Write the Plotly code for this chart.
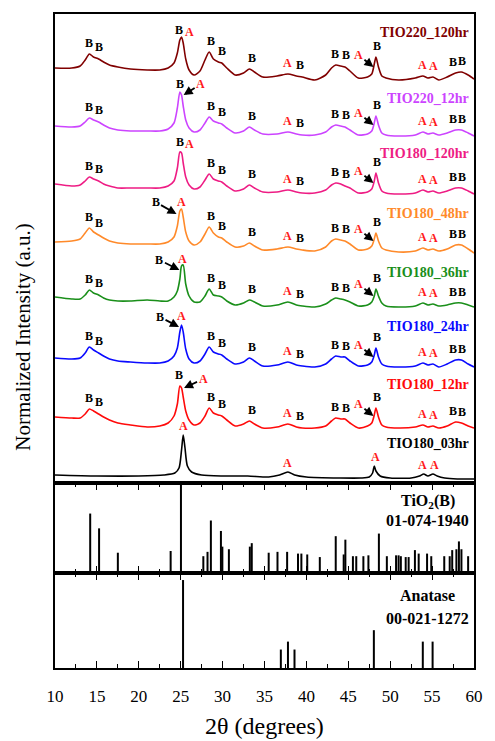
import numpy as np
import plotly.graph_objects as go
from plotly.subplots import make_subplots

# ---------------- data ----------------
two_theta = [10, 12, 13, 13.6, 14.1, 14.6, 15.2, 15.8, 16.5, 17.5,
             19, 21, 22.5, 23.5, 24.2, 24.6, 24.9, 25.1, 25.3, 25.6,
             26.0, 26.6, 27.3, 27.9, 28.4, 28.9, 29.5, 29.9, 30.5, 31.5,
             32.5, 33.2, 33.8, 34.8, 36.5, 37.8, 38.8, 39.5, 41, 42.3,
             43.0, 43.5, 44.1, 44.6, 45.2, 46.2, 47.3, 47.8, 48.1, 48.3,
             48.6, 49.0, 49.5, 51, 53, 53.9, 54.5, 55.1, 55.8, 56.8,
             57.8, 58.5, 59.3, 60]

samples = ["TIO220_120hr", "TIO220_12hr", "TIO180_120hr", "TIO180_48hr",
           "TIO180_36hr", "TIO180_24hr", "TIO180_12hr"]

tio220_120hr = [0, 0, 2, 8, 14, 11, 9, 6, 3, 1,
                -1, -2, -2, 0, 5, 15, 28, 31, 25, 9,
                -2, -7, -3, 8, 16, 9, 6, 5, 0, -7,
                -5, -1, -4, -9, -8, -6, -8, -9, -12, -7,
                0, 3, 2, 1, -3, -10, -9, -6, 4, 11,
                1, -8, -10, -12, -10, -8, -10, -9, -12, -9,
                -5, -4, -7, -11]
tio220_12hr = [0, -1, 0, 4, 8, 6, 4, 1, -2, -4,
               -5, -5, -5, -3, 3, 18, 34, 31, 20, 6,
               -2, -6, -4, 3, 9, 5, 3, 2, -2, -7,
               -5, -1, -4, -8, -8, -6, -8, -9, -9, -6,
               -1, 1, 0, -1, -4, -9, -8, -5, 3, 10,
               1, -7, -9, -10, -9, -6, -8, -7, -9, -7,
               -4, -4, -7, -10]
tio180_120hr = [0, -2, -1, 3, 7, 5, 3, 0, -2, -4,
                -4, -4, -4, -2, 3, 16, 32, 31, 21, 7,
                -1, -5, -3, 4, 10, 5, 3, 2, -2, -7,
                -5, -1, -4, -8, -8, -6, -8, -9, -9, -6,
                -1, 1, 0, -2, -4, -9, -8, -5, 3, 11,
                1, -7, -9, -10, -9, -6, -8, -7, -9, -7,
                -4, -4, -7, -10]
tio180_48hr = [0, 1, 3, 9, 14, 10, 7, 4, 1, -1,
               -2, -2, -2, 0, 5, 16, 31, 33, 25, 10,
               1, -3, 0, 8, 15, 9, 5, 4, 0, -5,
               -4, -1, -4, -8, -7, -5, -7, -8, -9, -5,
               1, 3, 2, 1, -2, -8, -7, -4, 3, 9,
               1, -6, -8, -10, -9, -6, -8, -7, -9, -7,
               -3, -3, -7, -11]
tio180_36hr = [0, -2, -2, 2, 7, 4, 2, -1, -3, -4,
               -4, -3, -4, -4, 0, 6, 18, 31, 32, 13,
               1, -5, -5, 1, 8, 2, 1, 0, -4, -8,
               -6, -3, -5, -9, -8, -5, -8, -9, -10, -7,
               -3, -1, -2, -3, -5, -9, -8, -5, 1, 8,
               1, -6, -9, -10, -9, -6, -8, -7, -9, -8,
               -6, -6, -8, -10]
tio180_24hr = [0, -1, 0, 5, 11, 8, 5, 2, -1, -3,
               -4, -5, -5, -3, 2, 10, 26, 33, 26, 9,
               -1, -5, -3, 4, 11, 6, 4, 3, -1, -6,
               -4, 0, -3, -8, -7, -4, -7, -8, -9, -6,
               -1, 2, 1, 1, -3, -8, -7, -4, 3, 10,
               1, -6, -8, -9, -8, -5, -7, -6, -9, -6,
               -2, -2, -6, -9]
tio180_12hr = [0, -1, -1, 3, 8, 6, 3, 0, -3, -6,
               -8, -10, -9, -6, 1, 13, 31, 29, 20, 6,
               -3, -8, -6, 1, 9, 4, 2, 1, -3, -9,
               -7, -4, -7, -11, -10, -7, -10, -11, -11, -9,
               -4, -1, -2, -2, -6, -11, -9, -6, 2, 9,
               0, -8, -10, -11, -10, -8, -10, -9, -11, -9,
               -5, -6, -9, -11]

two_theta_03hr = [10, 15, 20, 23, 24.3, 24.8, 25.1, 25.3, 25.5, 25.8,
                  26.3, 27.5, 30, 33, 35.5, 36.8, 37.8, 38.6, 40, 44,
                  46.5, 47.5, 47.9, 48.1, 48.3, 48.8, 50, 52.5, 53.5, 54.0,
                  54.5, 55.1, 55.6, 56.5, 58, 60]
tio180_03hr = [0, -1, -1, 0, 2, 7, 25, 40, 28, 9,
               3, 0, -1, -1, -2, 0, 3, 0, -2, -3,
               -3, -2, 2, 9, 4, -1, -3, -3, -1, 1,
               -1, 1, -1, -3, -4, -4]

series_values = [tio220_120hr, tio220_12hr, tio180_120hr, tio180_48hr,
                 tio180_36hr, tio180_24hr, tio180_12hr]
baselines = [415, 357, 299, 241, 186, 125, 66]
baseline_03hr = 8

# reference patterns (stick positions / relative intensities)
tio2b_pos = [14.2, 15.26, 17.5, 23.8, 25.03, 27.7, 28.2, 28.6, 29.8, 29.97,
             30.75, 33.25, 33.48, 35.5, 36.55, 37.7, 39.0, 39.4, 40.1, 41.6,
             43.5, 44.45, 44.65, 45.55, 45.95, 46.8, 47.4, 48.65, 49.6, 50.7,
             51.0, 51.27, 51.85, 52.2, 52.95, 53.4, 54.4, 54.9, 56.45, 57.1,
             57.4, 57.9, 58.2, 58.5, 59.3]
tio2b_int = [66, 49, 21, 23, 100, 17, 22, 58, 46, 28,
             25, 28, 32, 21, 22, 22, 20, 20, 19, 16,
             40, 19, 36, 17, 17, 17, 18, 43, 17, 18,
             18, 17, 16, 16, 24, 20, 20, 17, 17, 17,
             24, 25, 34, 25, 17]
anatase_pos = [25.28, 36.95, 37.80, 38.58, 48.05, 53.89, 55.06]
anatase_int = [100, 21, 30, 21, 43, 30, 30]

peak_marks = [("B", 14.1), ("B", 15.3), ("B", 28.6), ("B", 29.9), ("B", 33.5),
              ("A", 37.8), ("B", 39.2), ("B", 43.4), ("B", 44.7), ("B", 48.4),
              ("A", 53.9), ("A", 55.2), ("B", 57.5), ("B", 58.6)]
peak_marks_03hr = [("A", 25.3), ("A", 37.8), ("A", 48.2), ("A", 53.9), ("A", 55.3)]

# ---------------- styles ----------------
colors = ["#800000", "#CC44FF", "#EE1C84", "#FF8A2A", "#1A8F1A", "#0A0AFF", "#FF0A0A"]
FONT = "Liberation Serif"
A_COLOR = "#FF1A1A"

# labels near the 25 deg peak
special_25 = [
    dict(b=(24.8, 38), a=(26.0, 36)),
    dict(b=(24.9, 42), a_arrow=(25.35, 31, 17, -11)),
    dict(b=(24.95, 42), a=(26.0, 40)),
    dict(b_arrow=(24.5, 28, -21, -12), a=(25.1, 40)),
    dict(b_arrow=(24.85, 27, -20, -10), a=(25.2, 38)),
    dict(b_arrow=(24.8, 31, -19, -10), a=(25.1, 42)),
    dict(b=(24.8, 42), a_arrow=(25.4, 29, 19, -9)),
]

fig = make_subplots(rows=3, cols=1, shared_xaxes=True, vertical_spacing=0,
                    row_heights=[469, 90, 95])

for name, vals, base, col in zip(samples, series_values, baselines, colors):
    fig.add_trace(go.Scatter(x=two_theta, y=[base + v for v in vals], mode="lines",
                             line=dict(color=col, width=1.6, shape="spline", smoothing=0.7),
                             name=name, showlegend=False, hoverinfo="skip"), row=1, col=1)
fig.add_trace(go.Scatter(x=two_theta_03hr, y=[baseline_03hr + v for v in tio180_03hr],
                         mode="lines", line=dict(color="black", width=1.6, shape="spline", smoothing=0.7),
                         name="TIO180_03hr", showlegend=False, hoverinfo="skip"), row=1, col=1)


def sticks(pos, inten):
    xs, ys = [], []
    for p, h in zip(pos, inten):
        xs += [p, p, None]
        ys += [0, h, None]
    return xs, ys


sx, sy = sticks(tio2b_pos, tio2b_int)
fig.add_trace(go.Scatter(x=sx, y=sy, mode="lines", line=dict(color="black", width=2),
                         showlegend=False, hoverinfo="skip"), row=2, col=1)
sx, sy = sticks(anatase_pos, anatase_int)
fig.add_trace(go.Scatter(x=sx, y=sy, mode="lines", line=dict(color="black", width=2),
                         showlegend=False, hoverinfo="skip"), row=3, col=1)

ann = []


def local_max(xs, ys, x0, w=0.4):
    fine = np.linspace(x0 - w, x0 + w, 41)
    return float(np.interp(fine, xs, ys).max())


def mark(text, x, y, **kw):
    col = A_COLOR if text == "A" else "black"
    d = dict(text=text, x=x, y=y, xref="x", yref="y", showarrow=False,
             font=dict(family=FONT, size=12, color=col, weight="bold"))
    d.update(kw)
    ann.append(d)


GAP = 11
label_y = [451, 385, 330, 270, 211, 157, 99]
for name, vals, base, col, ly, sp in zip(samples, series_values, baselines, colors, label_y, special_25):
    for t, xp in peak_marks:
        mark(t, xp, base + local_max(two_theta, vals, xp) + GAP)
    if "b" in sp:
        mark("B", sp["b"][0], base + sp["b"][1])
    if "a" in sp:
        mark("A", sp["a"][0], base + sp["a"][1])
    if "b_arrow" in sp:
        hx, hy, ax, ay = sp["b_arrow"]
        mark("B", hx, base + hy, showarrow=True, ax=ax, ay=ay, arrowhead=2, arrowsize=1,
             arrowwidth=1.8, arrowcolor="black", standoff=0)
    if "a_arrow" in sp:
        hx, hy, ax, ay = sp["a_arrow"]
        mark("A", hx, base + hy, showarrow=True, ax=ax, ay=ay, arrowhead=2, arrowsize=1,
             arrowwidth=1.8, arrowcolor="black", standoff=0)
    mark("A", 48.0, base + 1, showarrow=True, ax=-15, ay=-12, arrowhead=2, arrowsize=1,
         arrowwidth=1.8, arrowcolor="black", standoff=0)
    ann.append(dict(text=name, x=59.65, y=ly, xref="x", yref="y", xanchor="right",
                    showarrow=False, font=dict(family=FONT, size=14, color=col, weight="bold")))

for t, xp in peak_marks_03hr:
    mark(t, xp, baseline_03hr + local_max(two_theta_03hr, tio180_03hr, xp) + 9)
ann.append(dict(text="TIO180_03hr", x=59.65, y=40, xref="x", yref="y", xanchor="right",
                showarrow=False, font=dict(family=FONT, size=14, color="black", weight="bold")))

# reference card labels
ann.append(dict(text="TiO<sub>2</sub>(B)", x=54.5, y=80, xref="x2", yref="y2", showarrow=False,
                font=dict(family=FONT, size=16, color="black", weight="bold")))
ann.append(dict(text="01-074-1940", x=54.5, y=58, xref="x2", yref="y2", showarrow=False,
                font=dict(family=FONT, size=16, color="black", weight="bold")))
ann.append(dict(text="Anatase", x=54.5, y=82, xref="x3", yref="y3", showarrow=False,
                font=dict(family=FONT, size=16, color="black", weight="bold")))
ann.append(dict(text="00-021-1272", x=54.5, y=56, xref="x3", yref="y3", showarrow=False,
                font=dict(family=FONT, size=16, color="black", weight="bold")))

# axis titles
ann.append(dict(text="Normalized Intensity (a.u.)", x=-0.075, y=0.506, xref="paper", yref="paper",
                xanchor="center", yanchor="middle",
                textangle=-90, showarrow=False, font=dict(family=FONT, size=21, color="black")))
ann.append(dict(text="2θ (degrees)", x=0.5, y=-0.088, xref="paper", yref="paper",
                xanchor="center", yanchor="middle",
                showarrow=False, font=dict(family=FONT, size=24, color="black")))

fig.update_layout(width=495, height=741, margin=dict(l=55, r=12, t=14, b=73),
                  plot_bgcolor="white", paper_bgcolor="white", annotations=ann,
                  font=dict(family=FONT, color="black"))

xcommon = dict(range=[10, 60], showgrid=False, zeroline=False, showline=True, mirror=True,
               linecolor="black", linewidth=1.5, dtick=5, tick0=10)
fig.update_xaxes(**xcommon)
fig.update_xaxes(ticks="", showticklabels=False, row=1, col=1)
fig.update_xaxes(ticks="inside", ticklen=7, tickwidth=1.3, tickcolor="black", mirror="ticks",
                 minor=dict(dtick=2.5, ticks="inside", ticklen=4, tickwidth=1.2, tickcolor="black"),
                 row=2, col=1)
fig.update_xaxes(ticks="inside", ticklen=7, tickwidth=1.3, tickcolor="black", mirror="ticks",
                 minor=dict(dtick=2.5, ticks="inside", ticklen=4, tickwidth=1.2, tickcolor="black"),
                 showticklabels=True, tickfont=dict(family=FONT, size=17, color="black"),
                 ticklabelstandoff=12, row=3, col=1)

ycommon = dict(showgrid=False, zeroline=False, showline=True, mirror=True, linecolor="black",
               linewidth=1.5, ticks="", showticklabels=False)
fig.update_yaxes(**ycommon)
fig.update_yaxes(range=[0, 469], row=1, col=1)
fig.update_yaxes(range=[-2.3, 101.1], row=2, col=1)
fig.update_yaxes(range=[0, 108], row=3, col=1)

fig.write_html("out.html")
